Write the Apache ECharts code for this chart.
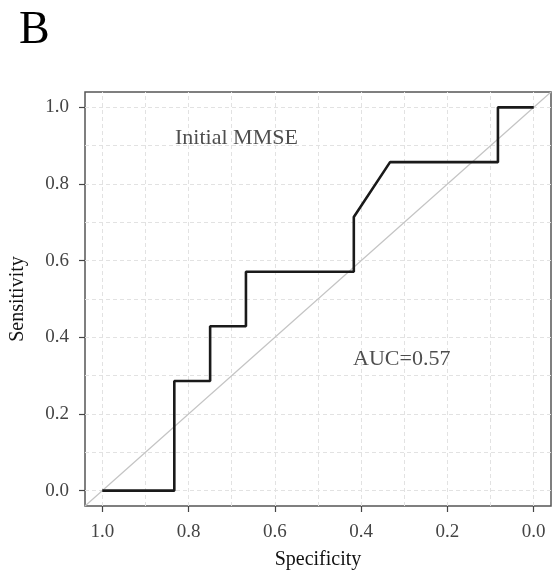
<!DOCTYPE html>
<html>
<head>
<meta charset="utf-8">
<script src="https://cdn.jsdelivr.net/npm/echarts@6/dist/echarts.min.js"></script>
<style>
  html, body { margin: 0; padding: 0; background: #fff; }
  #chart { width: 556px; height: 575px; }
</style>
</head>
<body>
<div id="chart"></div>
<script>
// ROC curve points (specificity reversed on x)
const specificity = [1, 0.833, 0.833, 0.75, 0.75, 0.667, 0.667, 0.417, 0.417, 0.333, 0.083, 0.083, 0]
const sensitivity = [0, 0, 0.286, 0.286, 0.429, 0.429, 0.571, 0.571, 0.714, 0.857, 0.857, 1, 1]
// tick labels and grid lines
const tickValues = [0, 0.2, 0.4, 0.6, 0.8, 1]
const gridValues = [0, 0.1, 0.2, 0.3, 0.4, 0.5, 0.6, 0.7, 0.8, 0.9, 1]
// chance diagonal, across the whole panel
const diagX = [1.04, -0.04]
const diagY = [-0.04, 1.04]
// annotations
const noteX = [0.689, 0.306]
const noteY = [0.919, 0.342]
const noteText = ['Initial MMSE', 'AUC=0.57']

const serif = 'Liberation Serif'
const rocData = specificity.map((s, i) => [s, sensitivity[i]])
const diagData = diagX.map((x, i) => [x, diagY[i]])
const noteData = noteX.map((x, i) => [x, noteY[i], noteText[i]])

const gridStyle = { type: [4, 3], color: '#e2e2e2', width: 1 }
const gridLines = []
gridValues.forEach(v => {
  gridLines.push({ xAxis: v })
  gridLines.push({ yAxis: v })
})

const axisCommon = {
  type: 'value',
  min: -0.04,
  max: 1.04,
  axisLine: { show: false, onZero: false },
  splitLine: { show: false },
  axisTick: {
    show: true,
    length: 6,
    customValues: tickValues,
    lineStyle: { color: '#444', width: 1.2 }
  },
  axisLabel: {
    customValues: tickValues,
    formatter: v => v.toFixed(1),
    fontFamily: serif,
    fontSize: 19,
    color: '#444'
  },
  nameLocation: 'middle',
  nameTextStyle: { fontFamily: serif, fontSize: 20, color: '#111' }
}

const chart = echarts.init(document.getElementById('chart'))
chart.setOption({
  animation: false,
  title: {
    text: 'B',
    left: 14,
    top: 3,
    textStyle: { fontFamily: serif, fontSize: 46, fontWeight: 'normal', color: '#000' }
  },
  grid: {
    left: 83,
    right: 5,
    top: 92,
    bottom: 65,
    show: true,
    borderColor: '#555',
    borderWidth: 1.5,
    backgroundColor: '#fff'
  },
  xAxis: Object.assign({}, axisCommon, {
    inverse: true,
    name: 'Specificity',
    nameGap: 44,
    axisLabel: Object.assign({}, axisCommon.axisLabel, { margin: 17 })
  }),
  yAxis: Object.assign({}, axisCommon, {
    name: 'Sensitivity',
    nameGap: 57,
    axisLabel: Object.assign({}, axisCommon.axisLabel, { margin: 16 })
  }),
  series: [
    {
      // grid lines
      type: 'line',
      data: [],
      z: 1,
      markLine: {
        silent: true,
        symbol: 'none',
        z: 1,
        label: { show: false },
        lineStyle: gridStyle,
        data: gridLines
      }
    },
    {
      type: 'line',
      data: diagData,
      showSymbol: false,
      lineStyle: { color: '#c4c4c4', width: 1.2 },
      z: 6
    },
    {
      type: 'line',
      data: rocData,
      showSymbol: false,
      lineStyle: { color: '#1a1a1a', width: 2.6 },
      z: 7
    },
    {
      type: 'scatter',
      data: noteData,
      symbolSize: 0,
      label: {
        show: true,
        position: 'inside',
        formatter: p => p.data[2],
        fontFamily: serif,
        fontSize: 22,
        color: '#222'
      },
      z: 8
    }
  ]
})
</script>
</body>
</html>
